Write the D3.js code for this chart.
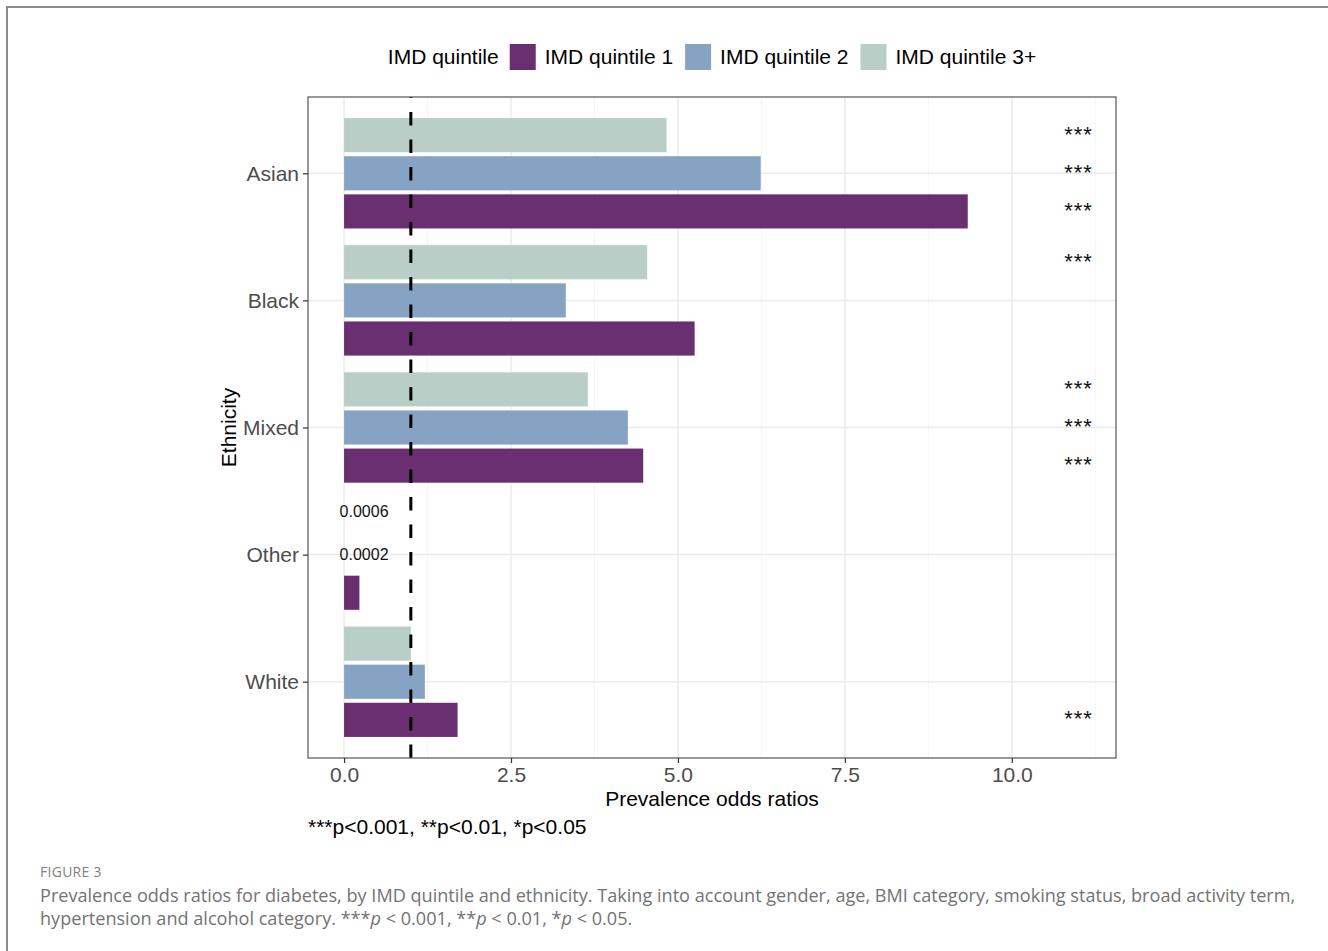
<!DOCTYPE html>
<html><head><meta charset="utf-8">
<script src="https://cdn.jsdelivr.net/npm/d3@7"></script>
<style>
html,body{margin:0;padding:0;background:#fff;}
svg{display:block;font-family:"Liberation Sans",Arial,sans-serif;}
.cap{font-family:"Open Sans",sans-serif;}
</style></head>
<body>
<svg id="chart" width="1328" height="951"></svg>
<script>
// ---- data ----
const categories = ["Asian","Black","Mixed","Other","White"];
const quintiles = ["IMD quintile 1","IMD quintile 2","IMD quintile 3+"];
const q1Values  = [9.34, 5.25, 4.48, 0.23, 1.70];
const q2Values  = [6.24, 3.32, 4.25, 0.0002, 1.21];
const q3Values  = [4.83, 4.54, 3.65, 0.0006, 1.00];
const q1Sig = ["***","","***","","***"];
const q2Sig = ["***","","***","",""];
const q3Sig = ["***","***","***","",""];
const smallLabels = [{cat:"Other", q:"IMD quintile 3+", text:"0.0006"},{cat:"Other", q:"IMD quintile 2", text:"0.0002"}];
const xTicks = [0, 2.5, 5, 7.5, 10];
const xMinor = [1.25, 3.75, 6.25, 8.75, 11.25];
const refLine = 1;
const colors = {"IMD quintile 1":"#6a2f71","IMD quintile 2":"#86a3c4","IMD quintile 3+":"#b8cec6"};

const seriesVals = {"IMD quintile 1":q1Values,"IMD quintile 2":q2Values,"IMD quintile 3+":q3Values};
const seriesSig = {"IMD quintile 1":q1Sig,"IMD quintile 2":q2Sig,"IMD quintile 3+":q3Sig};
const rows = [];
categories.forEach((c,i)=>quintiles.forEach(q=>rows.push({cat:c,q:q,v:seriesVals[q][i],sig:seriesSig[q][i]})));

// ---- layout ----
const svg = d3.select("#chart");
const P = {l:308, r:1116, t:97, b:758};
const x = d3.scaleLinear().domain([-0.54, 11.56]).range([P.l, P.r]);
const y = d3.scalePoint().domain(categories).range([P.t, P.b]).padding(0.6);
const step = y.step();
const barW = step*0.3;
const off = d3.scalePoint().domain(["IMD quintile 3+","IMD quintile 2","IMD quintile 1"]).range([-barW, barW]);

// outer frame (top + left)
svg.append("path").attr("d","M7,951 L7,7 L1328,7").attr("fill","none").attr("stroke","#8c8c8c").attr("stroke-width",2);

// grid
const g = svg.append("g");
g.selectAll(".minor").data(xMinor).join("line")
  .attr("x1",d=>x(d)).attr("x2",d=>x(d)).attr("y1",P.t).attr("y2",P.b)
  .attr("stroke","#f3f3f3").attr("stroke-width",0.8);
g.selectAll(".major").data(xTicks).join("line")
  .attr("x1",d=>x(d)).attr("x2",d=>x(d)).attr("y1",P.t).attr("y2",P.b)
  .attr("stroke","#ebebeb").attr("stroke-width",1.5);
g.selectAll(".hmajor").data(categories).join("line")
  .attr("x1",P.l).attr("x2",P.r).attr("y1",d=>y(d)).attr("y2",d=>y(d))
  .attr("stroke","#ebebeb").attr("stroke-width",1.5);

// bars
const inset = 2;
svg.append("g").selectAll("rect").data(rows).join("rect")
  .attr("x",x(0))
  .attr("width",d=>Math.max(0,x(d.v)-x(0)))
  .attr("y",d=>y(d.cat)+off(d.q)-barW/2+inset)
  .attr("height",barW-2*inset)
  .attr("fill",d=>colors[d.q]);

// reference dashed line (pattern starting from the bottom)
svg.append("line")
  .attr("x1",x(refLine)).attr("x2",x(refLine)).attr("y1",P.b).attr("y2",P.t)
  .attr("stroke","#000").attr("stroke-width",3).attr("stroke-dasharray","13.5,14");

// significance stars
svg.append("g").selectAll("text").data(rows.filter(d=>d.sig)).join("text")
  .attr("x",x(11)).attr("y",d=>y(d.cat)+off(d.q)).attr("dy","0.3em")
  .attr("text-anchor","middle").attr("font-size",22).attr("letter-spacing",1).attr("fill","#111")
  .text(d=>d.sig);

// small value labels
svg.append("g").selectAll("text").data(smallLabels).join("text")
  .attr("x",x(0.3)).attr("y",d=>y(d.cat)+off(d.q)).attr("dy",d=>d.q==="IMD quintile 3+"?"0.05em":"0.35em")
  .attr("text-anchor","middle").attr("font-size",16).attr("fill","#111")
  .text(d=>d.text);

// panel border
svg.append("rect").attr("x",P.l).attr("y",P.t).attr("width",P.r-P.l).attr("height",P.b-P.t)
  .attr("fill","none").attr("stroke","#555").attr("stroke-width",1.2);

// axes
const xAxis = svg.append("g").attr("transform",`translate(0,${P.b})`)
  .call(d3.axisBottom(x).tickValues(xTicks).tickFormat(d3.format(".1f")).tickSizeOuter(0).tickSize(5).tickPadding(4));
xAxis.select(".domain").remove();
xAxis.selectAll("line").attr("stroke","#333").attr("stroke-width",1.2);
xAxis.selectAll("text").attr("font-size",21).attr("fill","#4d4d4d").attr("font-family","Liberation Sans, Arial, sans-serif");

const yAxis = svg.append("g").attr("transform",`translate(${P.l},0)`)
  .call(d3.axisLeft(y).tickSizeOuter(0).tickSize(5).tickPadding(4));
yAxis.select(".domain").remove();
yAxis.selectAll("line").attr("stroke","#333").attr("stroke-width",1.2);
yAxis.selectAll("text").attr("font-size",21).attr("fill","#4d4d4d").attr("font-family","Liberation Sans, Arial, sans-serif");

// axis titles
svg.append("text").attr("x",(P.l+P.r)/2).attr("y",806).attr("text-anchor","middle")
  .attr("font-size",21).attr("fill","#000").text("Prevalence odds ratios");
svg.append("text").attr("transform",`translate(236,${(P.t+P.b)/2}) rotate(-90)`).attr("text-anchor","middle")
  .attr("font-size",21).attr("fill","#000").text("Ethnicity");

// note
svg.append("text").attr("x",P.l).attr("y",834).attr("font-size",21).attr("fill","#000")
  .text("***p<0.001, **p<0.01, *p<0.05");

// legend
const leg = svg.append("g");
let lx = 0;
const title = leg.append("text").attr("x",0).attr("y",64).attr("font-size",21).attr("fill","#000").text("IMD quintile");
lx = title.node().getComputedTextLength() + 11;
quintiles.forEach((q,i)=>{
  leg.append("rect").attr("x",lx).attr("y",44).attr("width",26).attr("height",26).attr("fill",colors[q]);
  lx += 26 + 9;
  const t = leg.append("text").attr("x",lx).attr("y",64).attr("font-size",21).attr("fill","#000").text(q);
  lx += t.node().getComputedTextLength();
  if(i<quintiles.length-1) lx += 12;
});
leg.attr("transform",`translate(${(P.l+P.r)/2 - lx/2},0)`);

// figure caption
const fig = svg.append("text").attr("class","cap").attr("x",40).attr("y",877)
  .attr("font-size",13).attr("fill","#808080").attr("letter-spacing",0.3).text("FIGURE 3");
fig.attr("font-size",13*62/fig.node().getComputedTextLength());
const cap1 = svg.append("text").attr("class","cap").attr("x",40).attr("y",902)
  .attr("font-size",17).attr("fill","#737373")
  .text("Prevalence odds ratios for diabetes, by IMD quintile and ethnicity. Taking into account gender, age, BMI category, smoking status, broad activity term,");
const w1 = cap1.node().getComputedTextLength();
const fs = 17*1256/w1;
cap1.attr("font-size",fs);
const cap2 = svg.append("text").attr("class","cap").attr("x",40).attr("y",925)
  .attr("font-size",fs).attr("fill","#737373");
cap2.append("tspan").text("hypertension and alcohol category. ***");
cap2.append("tspan").attr("font-style","italic").text("p");
cap2.append("tspan").text(" < 0.001, **");
cap2.append("tspan").attr("font-style","italic").text("p");
cap2.append("tspan").text(" < 0.01, *");
cap2.append("tspan").attr("font-style","italic").text("p");
cap2.append("tspan").text(" < 0.05.");
</script>
</body></html>
